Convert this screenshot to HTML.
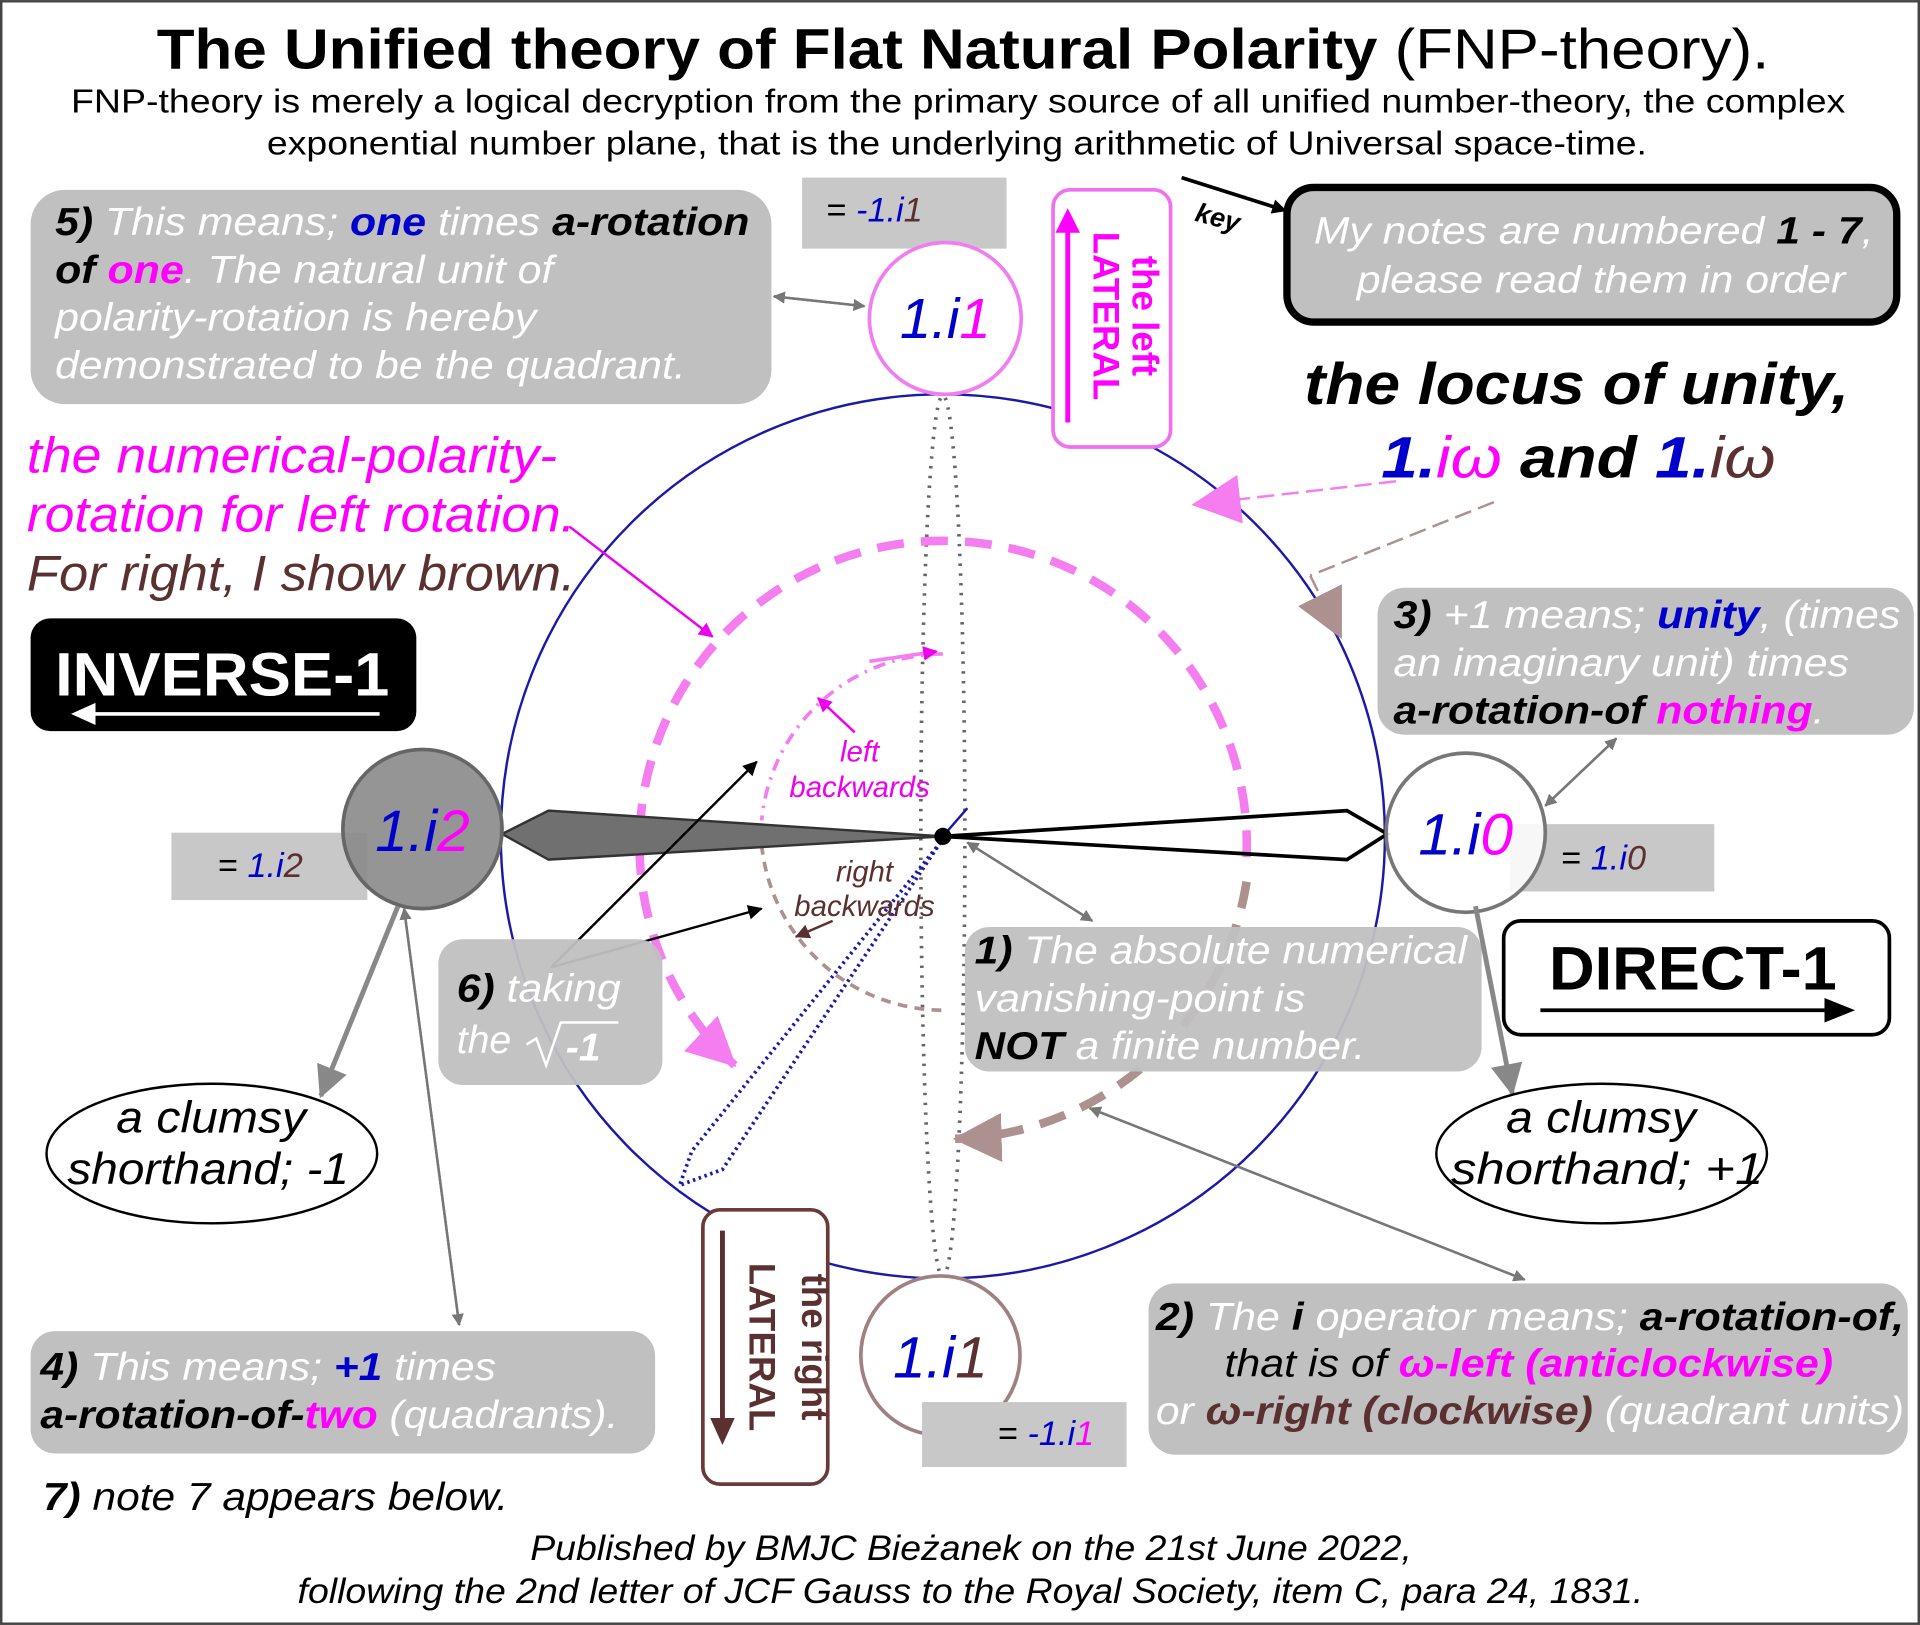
<!DOCTYPE html>
<html><head><meta charset="utf-8"><style>
html,body{margin:0;padding:0;background:#fff}
svg{display:block}
text{font-family:"Liberation Sans",sans-serif}
.i{font-style:italic}
</style></head><body>
<svg width="1920" height="1625" viewBox="0 0 1568 1327" xmlns="http://www.w3.org/2000/svg">
<defs>
<marker id="ag" markerWidth="10" markerHeight="10" refX="9" refY="5" orient="auto" markerUnits="userSpaceOnUse"><path d="M0,0 L10,5 L0,10 z" fill="#777"/></marker>
<marker id="ab" markerWidth="12" markerHeight="12" refX="11" refY="6" orient="auto" markerUnits="userSpaceOnUse"><path d="M0,0 L12,6 L0,12 z" fill="#000"/></marker>
<marker id="agb" markerWidth="26" markerHeight="26" refX="24" refY="13" orient="auto" markerUnits="userSpaceOnUse"><path d="M0,0 L26,13 L0,26 z" fill="#888"/></marker>
<marker id="ap" markerWidth="40" markerHeight="40" refX="38" refY="20" orient="auto" markerUnits="userSpaceOnUse"><path d="M0,0 L40,20 L0,40 z" fill="#f47ef0"/></marker>
<marker id="abr" markerWidth="40" markerHeight="40" refX="38" refY="20" orient="auto" markerUnits="userSpaceOnUse"><path d="M0,0 L40,20 L0,40 z" fill="#ad9090"/></marker>
<marker id="aps" markerWidth="12" markerHeight="12" refX="11" refY="6" orient="auto" markerUnits="userSpaceOnUse"><path d="M0,0 L12,6 L0,12 z" fill="#e0e"/></marker>
<marker id="abs" markerWidth="12" markerHeight="12" refX="11" refY="6" orient="auto" markerUnits="userSpaceOnUse"><path d="M0,0 L12,6 L0,12 z" fill="#5a3030"/></marker>
</defs>
<rect x="1" y="1" width="1566" height="1325" fill="#fff" stroke="#444" stroke-width="2"/>
<text x="128" y="56" font-size="46" textLength="1317" lengthAdjust="spacingAndGlyphs"><tspan font-weight="bold">The Unified theory of Flat Natural Polarity</tspan> (FNP-theory).</text>
<text x="58" y="92" font-size="27" textLength="1449" lengthAdjust="spacingAndGlyphs">FNP-theory is merely a logical decryption from the primary source of all unified number-theory, the complex</text>
<text x="218" y="126" font-size="27" textLength="1127" lengthAdjust="spacingAndGlyphs">exponential number plane, that is the underlying arithmetic of Universal space-time.</text>

<circle cx="770" cy="683" r="361" fill="none" stroke="#1a1aa8" stroke-width="2"/>
<ellipse cx="770" cy="683" rx="18" ry="360" fill="none" stroke="#666" stroke-width="3" stroke-dasharray="2,6"/>
<path d="M1018,700 A248,248 0 1 0 600,870" fill="none" stroke="#f47ef0" stroke-width="7" stroke-dasharray="22,14" marker-end="url(#ap)"/>
<path d="M1018,720 A248,248 0 0 1 780,930" fill="none" stroke="#ad9090" stroke-width="7" stroke-dasharray="22,14" marker-end="url(#abr)"/>
<path d="M770,534 A150,150 0 0 0 622,670" fill="none" stroke="#f47ef0" stroke-width="3" stroke-dasharray="10,6,2,6"/>
<path d="M710,540 L765,532" stroke="#f47ef0" stroke-width="3" marker-end="url(#aps)"/>
<path d="M622,690 A150,150 0 0 0 770,825" fill="none" stroke="#ad9090" stroke-width="3" stroke-dasharray="8,6"/>
<polygon points="770,683 448,662 410,681 448,702" fill="#707070" stroke="#333" stroke-width="2"/>
<polygon points="770,683 1100,662 1133,681 1100,702" fill="none" stroke="#000" stroke-width="3"/>
<polygon points="768,688 565,940 555,968 590,955" fill="none" stroke="#1a1aa8" stroke-width="3" stroke-dasharray="2,3"/>
<line x1="770" y1="683" x2="790" y2="660" stroke="#1a1aa8" stroke-width="2"/>
<circle cx="770" cy="683" r="7" fill="#000"/>
<path d="M450,790 L618,622" stroke="#000" stroke-width="2" marker-end="url(#ab)"/>
<path d="M450,790 L622,742" stroke="#000" stroke-width="2" marker-end="url(#ab)"/>
<text x="702" y="622" text-anchor="middle" font-size="24" fill="#e0e" class="i">left</text>
<text x="702" y="651" text-anchor="middle" font-size="24" fill="#e0e" class="i">backwards</text>
<path d="M698,598 L668,570" stroke="#e0e" stroke-width="2" marker-end="url(#aps)"/>
<text x="706" y="720" text-anchor="middle" font-size="24" fill="#5a3030" class="i">right</text>
<text x="706" y="748" text-anchor="middle" font-size="24" fill="#5a3030" class="i">backwards</text>
<path d="M680,752 L650,765" stroke="#5a3030" stroke-width="2" marker-end="url(#abs)"/>

<rect x="25" y="155" width="605" height="175" rx="28" fill="#c0c0c0"/>
<text x="45" y="192" font-size="32" class="i" fill="#fff" textLength="567" lengthAdjust="spacingAndGlyphs"><tspan fill="#000" font-weight="bold">5)</tspan> This means; <tspan fill="#00c" font-weight="bold">one</tspan> times <tspan fill="#000" font-weight="bold">a-rotation</tspan></text>
<text x="45" y="231" font-size="32" class="i" fill="#fff" textLength="407" lengthAdjust="spacingAndGlyphs"><tspan fill="#000" font-weight="bold">of</tspan> <tspan fill="#f0f" font-weight="bold">one</tspan>. The natural unit of</text>
<text x="45" y="270" font-size="32" class="i" fill="#fff" textLength="393" lengthAdjust="spacingAndGlyphs">polarity-rotation is hereby</text>
<text x="45" y="309" font-size="32" class="i" fill="#fff" textLength="515" lengthAdjust="spacingAndGlyphs">demonstrated to be the quadrant.</text>
<path d="M632,242 L706,250" stroke="#777" stroke-width="2" marker-end="url(#ag)"/>
<path d="M706,250 L632,242" stroke="#777" stroke-width="2" marker-end="url(#ag)"/>

<rect x="655" y="145" width="167" height="58" fill="#c8c8c8"/>
<text x="675" y="181" font-size="28">= <tspan fill="#00c" class="i">-1.i</tspan><tspan fill="#5a3030" class="i">1</tspan></text>

<circle cx="772" cy="260" r="62" fill="#fff" stroke="#f07ef0" stroke-width="3"/>
<text x="772" y="276" text-anchor="middle" font-size="46" class="i"><tspan fill="#00c">1.i</tspan><tspan fill="#f0f">1</tspan></text>

<rect x="860" y="155" width="96" height="210" rx="14" fill="#fff" stroke="#f070f0" stroke-width="3"/>
<path d="M872,345 L872,178" stroke="#f0f" stroke-width="4"/>
<path d="M862,190 L872,170 L882,190 z" fill="#f0f"/>
<text transform="translate(925,258) rotate(90)" text-anchor="middle" font-size="30" font-weight="bold" fill="#f0f">the left</text>
<text transform="translate(893,258) rotate(90)" text-anchor="middle" font-size="30" font-weight="bold" fill="#f0f">LATERAL</text>

<text x="975" y="180" font-size="22" font-weight="bold" class="i" transform="rotate(15 975 180)">key</text>
<path d="M965,145 L1050,172" stroke="#000" stroke-width="3" marker-end="url(#ab)"/>
<rect x="1051" y="153" width="498" height="110" rx="22" fill="#c0c0c0" stroke="#000" stroke-width="6"/>
<text x="1073" y="199" font-size="31" class="i" fill="#fff" textLength="457" lengthAdjust="spacingAndGlyphs">My notes are numbered <tspan fill="#000" font-weight="bold">1 - 7</tspan>,</text>
<text x="1108" y="239" font-size="31" class="i" fill="#fff" textLength="399" lengthAdjust="spacingAndGlyphs">please read them in order</text>

<text x="1065" y="330" font-size="48" font-weight="bold" class="i" textLength="445" lengthAdjust="spacingAndGlyphs">the locus of unity,</text>
<text x="1128" y="390" font-size="48" font-weight="bold" class="i" textLength="322" lengthAdjust="spacingAndGlyphs"><tspan fill="#00c">1.</tspan><tspan fill="#f0f" font-weight="normal">iω</tspan> and <tspan fill="#00c">1.</tspan><tspan fill="#5a3030" font-weight="normal">iω</tspan></text>
<path d="M1140,393 L975,412" stroke="#f47ef0" stroke-width="2" stroke-dasharray="14,6" marker-end="url(#ap)"/>
<path d="M1220,410 L1070,470" stroke="#ad9090" stroke-width="2" stroke-dasharray="14,6"/>
<path d="M1070,470 L1095,520" stroke="#ad9090" stroke-width="2" stroke-dasharray="14,6" marker-end="url(#abr)"/>

<text x="22" y="386" font-size="41" class="i" fill="#f0f" textLength="433" lengthAdjust="spacingAndGlyphs">the numerical-polarity-</text>
<text x="22" y="434" font-size="41" class="i" fill="#f0f" textLength="448" lengthAdjust="spacingAndGlyphs">rotation for left rotation.</text>
<text x="22" y="482" font-size="41" class="i" fill="#5a3030" textLength="448" lengthAdjust="spacingAndGlyphs">For right, I show brown.</text>
<path d="M465,430 L582,520" stroke="#e0e" stroke-width="2" marker-end="url(#aps)"/>

<rect x="25" y="505" width="315" height="92" rx="16" fill="#000"/>
<text x="45" y="568" font-size="50" font-weight="bold" fill="#fff" textLength="273" lengthAdjust="spacingAndGlyphs">INVERSE-1</text>
<path d="M310,583 L72,583" stroke="#fff" stroke-width="3"/>
<path d="M78,574 L58,583 L78,592 z" fill="#fff"/>

<rect x="1125" y="480" width="438" height="120" rx="22" fill="#c0c0c0"/>
<text x="1138" y="513" font-size="32" class="i" fill="#fff" textLength="414" lengthAdjust="spacingAndGlyphs"><tspan fill="#000" font-weight="bold">3)</tspan> +1 means; <tspan fill="#00c" font-weight="bold">unity</tspan>, (times</text>
<text x="1138" y="552" font-size="32" class="i" fill="#fff" textLength="372" lengthAdjust="spacingAndGlyphs">an imaginary unit) times</text>
<text x="1138" y="591" font-size="32" class="i" fill="#fff" textLength="352" lengthAdjust="spacingAndGlyphs"><tspan fill="#000" font-weight="bold">a-rotation-of</tspan> <tspan fill="#f0f" font-weight="bold">nothing</tspan>.</text>
<path d="M1320,603 L1262,658" stroke="#777" stroke-width="2" marker-end="url(#ag)"/>
<path d="M1262,658 L1320,603" stroke="#777" stroke-width="2" marker-end="url(#ag)"/>

<rect x="140" y="680" width="160" height="55" fill="#c8c8c8"/>
<text x="178" y="716" font-size="28">= <tspan fill="#00c" class="i">1.i</tspan><tspan fill="#5a3030" class="i">2</tspan></text>
<circle cx="345" cy="677" r="65" fill="#8a8a8a" fill-opacity="0.9" stroke="#666" stroke-width="3"/>
<text x="345" y="695" text-anchor="middle" font-size="48" class="i"><tspan fill="#00c">1.i</tspan><tspan fill="#f0f">2</tspan></text>

<rect x="1233" y="673" width="167" height="55" fill="#c8c8c8"/>
<text x="1275" y="710" font-size="28">= <tspan fill="#00c" class="i">1.i</tspan><tspan fill="#5a3030" class="i">0</tspan></text>
<circle cx="1197" cy="680" r="65" fill="#fff" fill-opacity="0.85" stroke="#777" stroke-width="3"/>
<text x="1197" y="698" text-anchor="middle" font-size="48" class="i"><tspan fill="#00c">1.i</tspan><tspan fill="#f0f">0</tspan></text>

<rect x="1228" y="752" width="315" height="93" rx="14" fill="#fff" stroke="#000" stroke-width="3"/>
<text x="1265" y="808" font-size="50" font-weight="bold" textLength="235" lengthAdjust="spacingAndGlyphs">DIRECT-1</text>
<path d="M1258,825 L1495,825" stroke="#000" stroke-width="3"/>
<path d="M1490,815 L1515,825 L1490,835 z" fill="#000"/>

<rect x="788" y="757" width="422" height="118" rx="20" fill="#c0c0c0" fill-opacity="0.95"/>
<text x="796" y="787" font-size="32" class="i" fill="#fff" textLength="402" lengthAdjust="spacingAndGlyphs"><tspan fill="#000" font-weight="bold">1)</tspan> The absolute numerical</text>
<text x="796" y="826" font-size="32" class="i" fill="#fff" textLength="270" lengthAdjust="spacingAndGlyphs">vanishing-point is</text>
<text x="796" y="865" font-size="32" class="i" fill="#fff" textLength="319" lengthAdjust="spacingAndGlyphs"><tspan fill="#000" font-weight="bold">NOT</tspan> a finite number.</text>
<path d="M790,688 L892,752" stroke="#777" stroke-width="2" marker-end="url(#ag)"/>
<path d="M892,752 L790,688" stroke="#777" stroke-width="2" marker-end="url(#ag)"/>

<rect x="358" y="767" width="183" height="119" rx="20" fill="#c0c0c0" fill-opacity="0.95"/>
<text x="373" y="818" font-size="32" class="i" fill="#fff" textLength="134" lengthAdjust="spacingAndGlyphs"><tspan fill="#000" font-weight="bold">6)</tspan> taking</text>
<text x="373" y="860" font-size="32" class="i" fill="#fff">the</text>
<path d="M430,853 L438,848 L446,870 L458,835 L505,835" fill="none" stroke="#fff" stroke-width="2"/>
<text x="462" y="866" font-size="32" class="i" fill="#fff" font-weight="bold">-1</text>

<path d="M325,740 L262,895" stroke="#888" stroke-width="4" marker-end="url(#agb)"/>
<ellipse cx="173" cy="942" rx="135" ry="57" fill="#fff" stroke="#000" stroke-width="2"/>
<text x="95" y="925" font-size="36" class="i" textLength="155" lengthAdjust="spacingAndGlyphs">a clumsy</text>
<text x="55" y="967" font-size="36" class="i" textLength="230" lengthAdjust="spacingAndGlyphs">shorthand; -1</text>
<path d="M1205,740 L1235,893" stroke="#888" stroke-width="4" marker-end="url(#agb)"/>
<ellipse cx="1308" cy="942" rx="135" ry="57" fill="#fff" stroke="#000" stroke-width="2"/>
<text x="1230" y="925" font-size="36" class="i" textLength="155" lengthAdjust="spacingAndGlyphs">a clumsy</text>
<text x="1185" y="967" font-size="36" class="i" textLength="255" lengthAdjust="spacingAndGlyphs">shorthand; +1</text>

<circle cx="768" cy="1107" r="65" fill="#fff" stroke="#a08080" stroke-width="3"/>
<text x="768" y="1125" text-anchor="middle" font-size="48" class="i"><tspan fill="#00c">1.i</tspan><tspan fill="#5a3030">1</tspan></text>
<rect x="753" y="1145" width="167" height="53" fill="#c8c8c8"/>
<text x="815" y="1180" font-size="28">= <tspan fill="#00c" class="i">-1.i</tspan><tspan fill="#f0f" class="i">1</tspan></text>

<rect x="574" y="988" width="102" height="224" rx="14" fill="#fff" stroke="#6a3a3a" stroke-width="3"/>
<path d="M590,1005 L590,1165" stroke="#5a3030" stroke-width="4"/>
<path d="M580,1158 L590,1180 L600,1158 z" fill="#5a3030"/>
<text transform="translate(655,1100) rotate(90)" text-anchor="middle" font-size="30" font-weight="bold" fill="#5a3030">the right</text>
<text transform="translate(612,1100) rotate(90)" text-anchor="middle" font-size="30" font-weight="bold" fill="#5a3030">LATERAL</text>

<rect x="25" y="1087" width="510" height="100" rx="20" fill="#c0c0c0"/>
<text x="33" y="1127" font-size="32" class="i" fill="#fff" textLength="372" lengthAdjust="spacingAndGlyphs"><tspan fill="#000" font-weight="bold">4)</tspan> This means; <tspan fill="#00c" font-weight="bold">+1</tspan> times</text>
<text x="33" y="1166" font-size="32" class="i" fill="#fff" textLength="472" lengthAdjust="spacingAndGlyphs"><tspan fill="#000" font-weight="bold">a-rotation-of-</tspan><tspan fill="#f0f" font-weight="bold">two</tspan> (quadrants).</text>
<path d="M375,1082 L330,742" stroke="#777" stroke-width="2" marker-end="url(#ag)"/>
<path d="M330,742 L375,1082" stroke="#777" stroke-width="2" marker-end="url(#ag)"/>

<rect x="938" y="1048" width="620" height="140" rx="22" fill="#c0c0c0"/>
<text x="944" y="1086" font-size="32" class="i" fill="#fff" textLength="611" lengthAdjust="spacingAndGlyphs"><tspan fill="#000" font-weight="bold">2)</tspan> The <tspan fill="#000" font-weight="bold">i</tspan> operator means; <tspan fill="#000" font-weight="bold">a-rotation-of,</tspan></text>
<text x="1000" y="1124" font-size="32" class="i" fill="#000" textLength="497" lengthAdjust="spacingAndGlyphs">that is of <tspan fill="#f0f" font-weight="bold">ω-left (anticlockwise)</tspan></text>
<text x="944" y="1163" font-size="32" class="i" fill="#fff" textLength="611" lengthAdjust="spacingAndGlyphs">or <tspan fill="#5a3030" font-weight="bold">ω-right (clockwise)</tspan> (quadrant units)</text>
<path d="M1245,1045 L890,905" stroke="#777" stroke-width="2" marker-end="url(#ag)"/>
<path d="M890,905 L1245,1045" stroke="#777" stroke-width="2" marker-end="url(#ag)"/>

<text x="35" y="1233" font-size="32" class="i" textLength="380" lengthAdjust="spacingAndGlyphs"><tspan font-weight="bold">7)</tspan> note 7 appears below.</text>
<text x="433" y="1274" font-size="29" class="i" textLength="720" lengthAdjust="spacingAndGlyphs">Published by BMJC Bieżanek on the 21st June 2022,</text>
<text x="243" y="1309" font-size="29" class="i" textLength="1099" lengthAdjust="spacingAndGlyphs">following the 2nd letter of JCF Gauss to the Royal Society, item C, para 24, 1831.</text>
</svg>
</body></html>
